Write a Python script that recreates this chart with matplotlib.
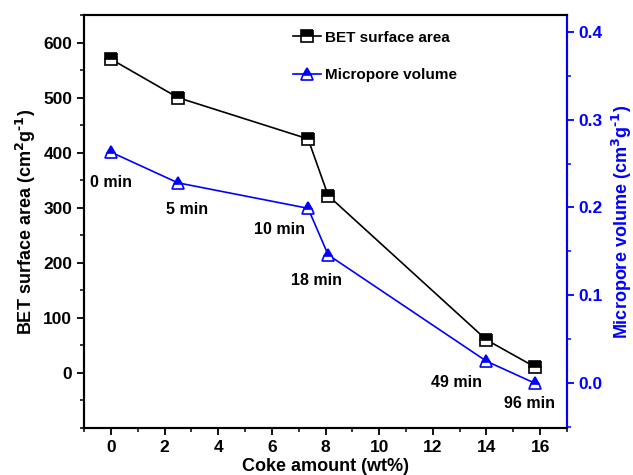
import matplotlib
matplotlib.use("Agg")
import matplotlib.pyplot as plt
from matplotlib.ticker import MultipleLocator, FixedLocator

plt.rcParams["font.family"] = ["Liberation Sans", "DejaVu Sans"]
plt.rcParams["font.weight"] = "bold"
plt.rcParams["mathtext.default"] = "bf"

coke = [0, 2.5, 7.35, 8.1, 14.0, 15.8]
bet_area = [570, 500, 425, 322, 60, 11]
micro_vol = [0.263, 0.228, 0.199, 0.146, 0.025, 0.0]
tiempos = ["0 min", "5 min", "10 min", "18 min", "49 min", "96 min"]
# posición de cada rótulo (x en wt%, y en escala izquierda)
pos_rotulo = [(0, 345), (2.85, 297), (6.3, 260), (7.65, 168), (12.9, -18), (15.6, -55)]

fig = plt.figure(figsize=(6.33, 4.75), dpi=100)
ax = fig.add_axes([84 / 633, 1 - 428 / 475, (567 - 84) / 633, (428 - 15) / 475])
ax2 = ax.twinx()

l1, = ax.plot(coke, bet_area, color="black", lw=1.2, marker="s", ms=8,
              fillstyle="top", markerfacecoloralt="white", mec="black",
              mew=1.2, label="BET surface area")
l2, = ax2.plot(coke, micro_vol, color="blue", lw=1.2, marker="^", ms=9,
               fillstyle="top", markerfacecoloralt="white", mec="blue",
               mew=1.2, label="Micropore volume")

for t, (xt, yt) in zip(tiempos, pos_rotulo):
    ax.text(xt, yt, t, ha="center", va="center", fontsize=11.5, weight="bold")

ax.set_xlim(-1, 17)
ax.set_ylim(-100, 650)
ax2.set_ylim(-0.051, 0.419)

ax.xaxis.set_major_locator(MultipleLocator(2))
ax.xaxis.set_minor_locator(MultipleLocator(1))
ax.yaxis.set_major_locator(FixedLocator([0, 100, 200, 300, 400, 500, 600]))
ax.yaxis.set_minor_locator(MultipleLocator(50))
ax2.yaxis.set_major_locator(FixedLocator([0.0, 0.1, 0.2, 0.3, 0.4]))
ax2.yaxis.set_minor_locator(MultipleLocator(0.05))
ax2.set_yticklabels(["0.0", "0.1", "0.2", "0.3", "0.4"])

for a in (ax, ax2):
    for s in a.spines.values():
        s.set_linewidth(1.5)
ax2.spines["right"].set_color("blue")

ax.tick_params(which="major", direction="out", length=5, width=1.3, labelsize=12.5)
ax.tick_params(which="minor", direction="out", length=3, width=1.1)
ax2.tick_params(which="major", direction="out", length=5, width=1.3, labelsize=12.5,
                colors="blue")
ax2.tick_params(which="minor", direction="out", length=3, width=1.1, colors="blue")

for lab in ax.get_xticklabels() + ax.get_yticklabels() + ax2.get_yticklabels():
    lab.set_fontweight("bold")

ax.set_xlabel("Coke amount (wt%)", fontsize=13, weight="bold", labelpad=2)
ax.set_ylabel("BET surface area (cm$^{2}$g$^{\\text{-}1}$)", fontsize=13,
              weight="bold", labelpad=4)
ax2.set_ylabel("Micropore volume (cm$^{3}$g$^{\\text{-}1}$)", fontsize=13,
               weight="bold", color="blue", labelpad=5)

ax.legend(handles=[l1, l2], loc="upper left", bbox_to_anchor=(0.405, 0.995),
          frameon=False, handlelength=1.8, handletextpad=0.3,
          labelspacing=1.55, prop={"weight": "bold", "size": 11})

plt.savefig("out.png", dpi=100)
